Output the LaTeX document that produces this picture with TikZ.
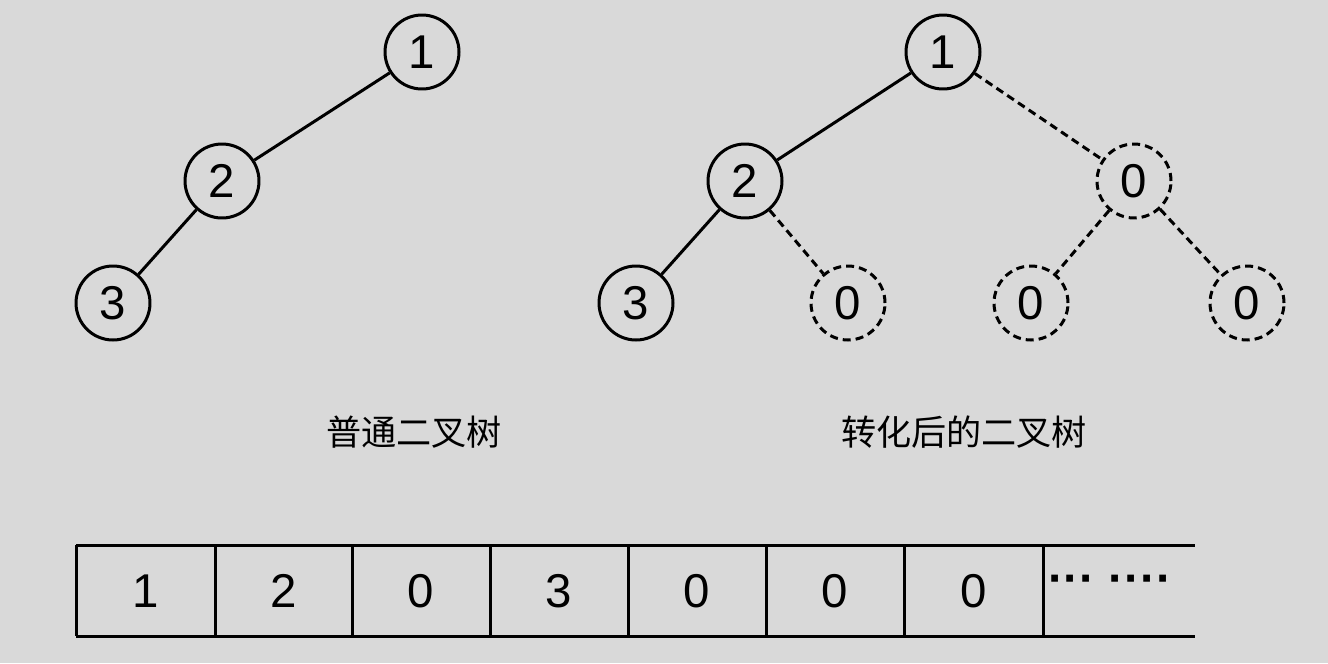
\documentclass[tikz,border=0pt]{standalone}
\usepackage{fontspec}
\setmainfont{Liberation Sans}
\newfontfamily\cjk{Noto Sans CJK SC}
\begin{document}
\begin{tikzpicture}[x=0.02cm,y=-0.02cm,
  nd/.style={circle,draw,line width=0.06cm,minimum size=1.48cm,inner sep=0pt,font=\fontsize{27}{30}\selectfont},
  dnd/.style={nd,dash pattern=on 0.16cm off 0.1cm},
  ln/.style={line width=0.06cm},
  dl/.style={ln,dash pattern=on 0.16cm off 0.1cm},
  lab/.style={font=\cjk\fontsize{20}{24}\selectfont},
  cell/.style={font=\fontsize{27}{30}\selectfont}]
\fill[fill={rgb,255:red,217;green,217;blue,217}] (0,0) rectangle (1328,663);
\useasboundingbox (0,0) rectangle (1328,663);
\node[nd] (a1) at (422,52) {1};
\node[nd] (a2) at (222,181) {2};
\node[nd] (a3) at (113,303) {3};
\draw[ln] (a1)--(a2); \draw[ln] (a2)--(a3);
\node[nd] (b1) at (943,52) {1};
\node[nd] (b2) at (745,181) {2};
\node[dnd] (b0) at (1134,181) {0};
\node[nd] (b3) at (636,303) {3};
\node[dnd] (c1) at (848,303) {0};
\node[dnd] (c2) at (1031,303) {0};
\node[dnd] (c3) at (1247,303) {0};
\draw[ln] (b1)--(b2); \draw[ln] (b2)--(b3);
\draw[dl] (b1)--(b0); \draw[dl] (b2)--(c1); \draw[dl] (b0)--(c2); \draw[dl] (b0)--(c3);
\node[lab] (l1) at (414,432) {普通二叉树};
\node[lab] (l2) at (964,432) {转化后的二叉树};
\draw[ln] (76,545)--(1195,545);
\draw[ln] (76,636)--(1195,636);
\foreach \x in {76,215,352,490,628,766,904,1043} \draw[ln] (\x,545)--(\x,636);
\foreach \x/\t [count=\i] in {145.5/1,283.5/2,421/0,559/3,697/0,835/0,973.5/0}
  \node[cell] (k\i) at (\x,591) {\t};
\node[cell] (dots) at (1110,585) {\textbf{··· ····}};
\end{tikzpicture}
\end{document}
